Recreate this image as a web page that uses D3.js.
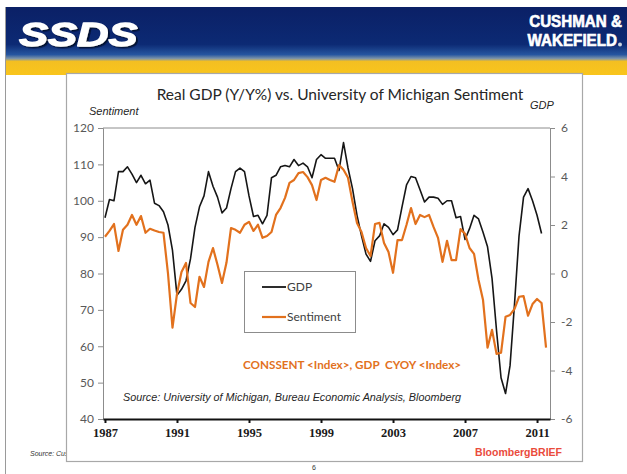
<!DOCTYPE html>
<html lang="en">
<head>
<meta charset="UTF-8">
<title>Real GDP vs. University of Michigan Sentiment</title>
<script src="https://d3js.org/d3.v7.min.js"></script>
<style>
    body { margin: 0; background: #fff; }
    svg { display: block; }
    .tick text { font-family: Lato, "Open Sans", sans-serif; font-size: 12px; fill: #595959; }
    .x-axis .tick text { font-family: "Liberation Serif", serif; font-weight: bold; font-size: 12.5px; fill: #1a1a1a; }
</style>
</head>
<body>
<div id="chart"></div>
<script>
// Quarterly values, 1987 Q1 onward
const gdp = [
    2.3, 3.05, 3.0, 4.2, 4.2, 4.4, 4.1, 3.75, 4.05, 3.7,
    3.85, 2.9, 2.8, 2.55, 2.0, 0.95, -0.9, -0.65, -0.3, 0.6,
    1.9, 2.75, 3.2, 4.2, 3.6, 3.15, 2.5, 2.7, 3.5, 4.2,
    4.35, 4.2, 3.2, 2.35, 2.4, 2.05, 2.4, 3.95, 4.05, 4.4,
    4.45, 4.4, 4.7, 4.45, 4.55, 4.4, 3.95, 4.7, 4.9, 4.75,
    4.75, 4.75, 4.25, 5.4, 4.35, 3.5, 2.4, 1.55, 0.8, 0.5,
    1.35, 1.55, 2.05, 1.9, 1.6, 1.8, 2.75, 3.65, 4.0, 3.95,
    3.45, 2.95, 3.15, 3.15, 3.1, 2.85, 3.0, 3.0, 2.3, 2.35,
    1.4, 1.85, 2.4, 2.25, 1.7, 1.1, -0.2, -2.35, -4.3, -4.95,
    -3.8, -1.25, 1.55, 3.15, 3.5, 3.0, 2.4, 1.65
];
const sentiment = [
    90.1, 91.7, 93.6, 86.2, 92.0, 93.4, 96.1, 93.4, 95.8, 91.2,
    92.3, 91.8, 91.4, 91.2, 80.0, 65.1, 74.4, 80.4, 82.9, 71.9,
    70.8, 79.1, 76.3, 83.2, 87.0, 82.4, 77.4, 83.0, 92.5, 92.0,
    91.2, 93.4, 94.2, 91.7, 93.4, 89.8, 90.3, 91.4, 96.1, 98.0,
    100.8, 104.9, 105.7, 107.6, 107.9, 106.5, 104.3, 100.2, 105.7, 106.3,
    105.7, 105.2, 109.8, 108.5, 106.3, 99.7, 93.9, 91.4, 87.0, 84.8,
    93.6, 93.9, 88.4, 85.9, 80.2, 89.2, 89.2, 93.4, 98.0, 93.6,
    96.1, 95.5, 96.1, 92.8, 89.8, 83.2, 89.0, 83.7, 83.7, 92.2,
    90.9, 87.0, 85.4, 78.2, 72.7, 59.6, 64.5, 57.9, 58.2, 68.1,
    68.6, 70.3, 73.6, 73.8, 68.4, 71.6, 73.0, 71.9, 59.6
];
const startYear = 1987;
const yearTicks = [1987, 1991, 1995, 1999, 2003, 2007, 2011];
const leftTicks = [40, 50, 60, 70, 80, 90, 100, 110, 120];
const rightTicks = [-6, -4, -2, 0, 2, 4, 6];

const W = 627, H = 474;
const plot = { left: 103, right: 550, top: 128, bottom: 419 };

const svg = d3.select("#chart").append("svg")
    .attr("width", W)
    .attr("height", H);

// ---- page banner ----
const defs = svg.append("defs");
const grad = defs.append("linearGradient")
    .attr("id", "banner").attr("x1", 0).attr("y1", 0).attr("x2", 0).attr("y2", 1);
[[0, "#0b2066"], [0.55, "#0c2a74"], [0.70, "#2656a0"], [0.76, "#7f95a8"], [0.80, "#f3bf22"], [1, "#f9c51c"]]
    .forEach(s => grad.append("stop").attr("offset", s[0]).attr("stop-color", s[1]));

const shadow = defs.append("filter").attr("id", "logoShadow")
    .attr("x", "-10%").attr("y", "-10%").attr("width", "130%").attr("height", "140%");
shadow.append("feDropShadow").attr("dx", 1.5).attr("dy", 1.5).attr("stdDeviation", 0.6)
    .attr("flood-color", "#06102e").attr("flood-opacity", 0.9);

svg.append("rect").attr("x", 5).attr("y", 7).attr("width", W - 5).attr("height", 68)
    .attr("fill", "url(#banner)");
svg.append("line").attr("x1", 5.5).attr("x2", 5.5).attr("y1", 7).attr("y2", H)
    .attr("stroke", "#9a9a9a").attr("stroke-width", 1);

// SSDS logo: heavy italic, slightly stretched
svg.append("text")
    .attr("transform", "translate(19,46) scale(1.28,1)")
    .attr("font-family", "Liberation Sans, Arial, sans-serif")
    .attr("font-weight", "bold").attr("font-style", "italic").attr("font-size", 34)
    .attr("fill", "#fff").attr("stroke", "#fff").attr("stroke-width", 1.3)
    .attr("stroke-linejoin", "round")
    .attr("filter", "url(#logoShadow)")
    .text("SSDS");

svg.append("text")
    .attr("transform", "translate(622,27) scale(0.95,1)")
    .attr("text-anchor", "end")
    .attr("font-family", "Liberation Sans, Arial, sans-serif")
    .attr("font-weight", "bold").attr("font-size", 16).attr("fill", "#fff")
    .attr("stroke", "#fff").attr("stroke-width", 0.6)
    .text("CUSHMAN &");
svg.append("text")
    .attr("transform", "translate(617,46) scale(0.95,1)")
    .attr("text-anchor", "end")
    .attr("font-family", "Liberation Sans, Arial, sans-serif")
    .attr("font-weight", "bold").attr("font-size", 16).attr("fill", "#fff")
    .attr("stroke", "#fff").attr("stroke-width", 0.6)
    .text("WAKEFIELD");
svg.append("circle").attr("cx", 620).attr("cy", 44.5).attr("r", 2).attr("fill", "#c9d3e0");

// page footer bits
svg.append("text").attr("x", 30).attr("y", 456)
    .attr("font-family", "Liberation Sans, Arial, sans-serif")
    .attr("font-style", "italic").attr("font-size", 7).attr("fill", "#333")
    .text("Source: Cushman & Wakefield");
svg.append("text").attr("x", 314).attr("y", 470).attr("text-anchor", "middle")
    .attr("font-family", "Liberation Sans, Arial, sans-serif")
    .attr("font-size", 7).attr("fill", "#333")
    .text("6");

// ---- chart frame ----
svg.append("rect").attr("x", 66.5).attr("y", 73.5).attr("width", 516).attr("height", 388)
    .attr("fill", "#fff").attr("stroke", "#a8a8a8").attr("stroke-width", 1.2);

// Title and axis titles
svg.append("text").attr("x", 340).attr("y", 100).attr("text-anchor", "middle")
    .attr("font-family", "Lato, sans-serif").attr("font-size", 15.5).attr("fill", "#262626")
    .text("Real GDP (Y/Y%) vs. University of Michigan Sentiment");
svg.append("text").attr("x", 89).attr("y", 115)
    .attr("font-family", "Liberation Sans, Arial, sans-serif")
    .attr("font-style", "italic").attr("font-size", 11).attr("fill", "#262626")
    .text("Sentiment");
svg.append("text").attr("x", 530).attr("y", 109)
    .attr("font-family", "Liberation Sans, Arial, sans-serif")
    .attr("font-style", "italic").attr("font-size", 11).attr("fill", "#262626")
    .text("GDP");

// ---- scales ----
const x = d3.scaleLinear()
    .domain([1986.89, 2011.72])
    .range([plot.left, plot.right]);
const yL = d3.scaleLinear().domain([40, 120]).range([plot.bottom, plot.top]);
const yR = d3.scaleLinear().domain([-6, 6]).range([plot.bottom, plot.top]);

const t = i => startYear + i / 4;

// top border of plot
svg.append("line")
    .attr("x1", plot.left).attr("x2", plot.right)
    .attr("y1", plot.top).attr("y2", plot.top)
    .attr("stroke", "#8c8c8c").attr("stroke-width", 1);

// left axis
const gL = svg.append("g")
    .attr("transform", `translate(${plot.left},0)`)
    .call(d3.axisLeft(yL).tickValues(leftTicks).tickSize(5).tickPadding(4));
gL.selectAll("path, line").attr("stroke", "#8c8c8c");

// right axis
const gR = svg.append("g")
    .attr("transform", `translate(${plot.right},0)`)
    .call(d3.axisRight(yR).tickValues(rightTicks).tickSize(5).tickPadding(6)
        .tickFormat(d => d < 0 ? "-" + Math.abs(d) : d));
gR.selectAll("path, line").attr("stroke", "#8c8c8c");

// ---- lines ----
const lineS = d3.line().x((d, i) => x(t(i))).y(d => yL(d));
const lineG = d3.line().x((d, i) => x(t(i))).y(d => yR(d));

svg.append("path").datum(gdp)
    .attr("d", lineG).attr("fill", "none")
    .attr("stroke", "#161616").attr("stroke-width", 1.6).attr("stroke-linejoin", "round");
svg.append("path").datum(sentiment)
    .attr("d", lineS).attr("fill", "none")
    .attr("stroke", "#e2711d").attr("stroke-width", 2.2).attr("stroke-linejoin", "round");

// bottom axis (black)
const gX = svg.append("g")
    .attr("class", "x-axis")
    .attr("transform", `translate(0,${plot.bottom})`)
    .call(d3.axisBottom(x).tickValues(yearTicks).tickFormat(d3.format("d"))
        .tickSize(4).tickSizeOuter(0).tickPadding(5));
gX.select(".domain").attr("stroke", "#111").attr("stroke-width", 2);
gX.selectAll(".tick line").attr("stroke", "#111").attr("stroke-width", 2);

// ---- legend ----
const legend = svg.append("g");
legend.append("rect").attr("x", 244.5).attr("y", 271.5).attr("width", 111).attr("height", 61)
    .attr("fill", "#fff").attr("stroke", "#8c8c8c");
const legendItems = [["GDP", "#161616", 1.8, 287], ["Sentiment", "#e2711d", 2.2, 317]];
legendItems.forEach(([name, color, w, yy]) => {
    legend.append("line").attr("x1", 262).attr("x2", 286).attr("y1", yy).attr("y2", yy)
        .attr("stroke", color).attr("stroke-width", w);
    legend.append("text").attr("x", 287).attr("y", yy + 4)
        .attr("font-family", "Lato, sans-serif").attr("font-size", 12).attr("fill", "#404040")
        .text(name);
});

// annotations
svg.append("text").attr("x", 243).attr("y", 369)
    .attr("font-family", "Lato, sans-serif").attr("font-weight", "bold")
    .attr("font-size", 11.7).attr("fill", "#e2711d")
    .attr("xml:space", "preserve")
    .text("CONSSENT <Index>, GDP  CYOY <Index>");
svg.append("text").attr("x", 123).attr("y", 401)
    .attr("font-family", "Liberation Sans, Arial, sans-serif")
    .attr("font-style", "italic").attr("font-size", 10.8).attr("fill", "#262626")
    .text("Source: University of Michigan, Bureau Economic Analysis, Bloomberg");
svg.append("text").attr("x", 562).attr("y", 456).attr("text-anchor", "end")
    .attr("font-family", "Liberation Sans, Arial, sans-serif")
    .attr("font-weight", "bold").attr("font-size", 10.5).attr("fill", "#ea4b3c")
    .text("BloombergBRIEF");
</script>
</body>
</html>
